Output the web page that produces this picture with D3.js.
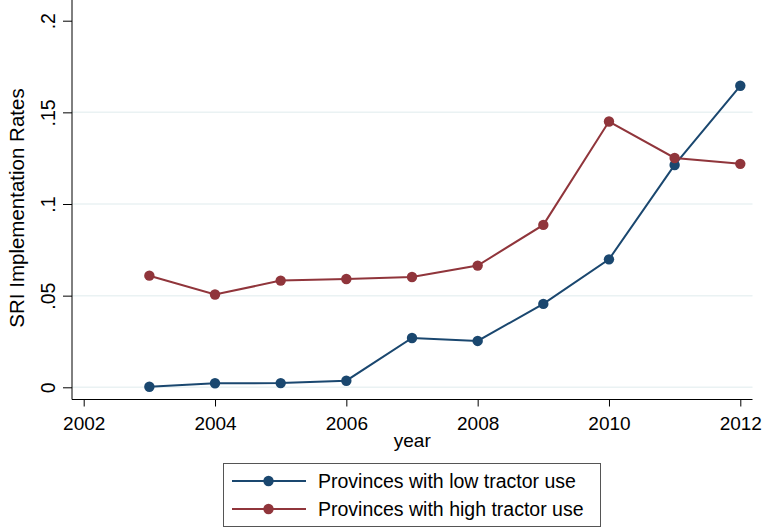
<!DOCTYPE html>
<html>
<head>
<meta charset="utf-8">
<script src="https://cdn.jsdelivr.net/npm/d3@7"></script>
<style>
  html, body { margin: 0; padding: 0; background: #fff; }
  svg { display: block; }
  text { font-family: "Liberation Sans", Arial, sans-serif; fill: #000; }
</style>
</head>
<body>
<svg id="chart" width="765" height="528"></svg>
<script>
// SRI implementation rates by province group, 2003–2012
const years = [2003, 2004, 2005, 2006, 2007, 2008, 2009, 2010, 2011, 2012];
const lowTractor  = [0.0003, 0.0022, 0.0023, 0.0036, 0.0269, 0.0253, 0.0455, 0.0698, 0.1213, 0.1645];
const highTractor = [0.0609, 0.0506, 0.0582, 0.0591, 0.0602, 0.0664, 0.0886, 0.1450, 0.1251, 0.1219];

const xTicks = [2002, 2004, 2006, 2008, 2010, 2012];
const yTicks = [0, 0.05, 0.1, 0.15, 0.2];
const yTickLabels = ["0", ".05", ".1", ".15", ".2"];
const gridValues = [0, 0.05, 0.1, 0.15];

const seriesNames = ["Provinces with low tractor use", "Provinces with high tractor use"];
const seriesColors = ["#1a476f", "#90353b"];

const svg = d3.select("#chart");

// plot frame
const left = 72, right = 752.5, bottom = 399.5;
const x = d3.scaleLinear().domain([2002, 2012]).range([83.7, 740.3]);
const y = d3.scaleLinear().domain([0, 0.2]).range([387.3, 20.7]);

// gridlines
svg.append("g")
  .selectAll("line")
  .data(gridValues)
  .join("line")
  .attr("x1", left).attr("x2", right)
  .attr("y1", d => y(d)).attr("y2", d => y(d))
  .attr("stroke", "#eaf2f3")
  .attr("stroke-width", 1.5);

// y axis
const yAxis = d3.axisLeft(y)
  .tickValues(yTicks)
  .tickFormat((d, i) => yTickLabels[i])
  .tickSizeOuter(0)
  .tickSizeInner(9);
const gy = svg.append("g")
  .attr("transform", `translate(${left},0)`)
  .call(yAxis);
gy.select(".domain").remove();
gy.append("line")
  .attr("x1", 0).attr("x2", 0)
  .attr("y1", 0).attr("y2", bottom)
  .attr("stroke", "#000").attr("stroke-width", 1);
gy.selectAll(".tick line").attr("stroke", "#000");
gy.selectAll(".tick text")
  .attr("x", null).attr("dy", null)
  .attr("text-anchor", "middle")
  .attr("transform", "translate(-17,0) rotate(-90)")
  .style("font-size", "19.5px")
  .style("font-family", "'Liberation Sans', Arial, sans-serif");

// x axis
const xAxis = d3.axisBottom(x)
  .tickValues(xTicks)
  .tickFormat(d3.format("d"))
  .tickSizeOuter(0)
  .tickSizeInner(7);
const gx = svg.append("g")
  .attr("transform", `translate(0,${bottom})`)
  .call(xAxis);
gx.select(".domain").remove();
gx.append("line")
  .attr("x1", left).attr("x2", right)
  .attr("y1", 0).attr("y2", 0)
  .attr("stroke", "#000").attr("stroke-width", 1);
gx.selectAll(".tick line").attr("stroke", "#000");
gx.selectAll(".tick text")
  .attr("y", 30.5).attr("dy", null)
  .style("font-size", "19px")
  .style("font-family", "'Liberation Sans', Arial, sans-serif");

// axis titles
svg.append("text")
  .attr("transform", "translate(24,208) rotate(-90)")
  .attr("text-anchor", "middle")
  .style("font-size", "20.5px")
  .text("SRI Implementation Rates");

svg.append("text")
  .attr("x", (left + right) / 2)
  .attr("y", 447)
  .attr("text-anchor", "middle")
  .style("font-size", "19px")
  .text("year");

// series
const allSeries = [lowTractor, highTractor];
const line = d3.line()
  .x((d, i) => x(years[i]))
  .y(d => y(d));

allSeries.forEach((vals, s) => {
  const g = svg.append("g");
  g.append("path")
    .datum(vals)
    .attr("fill", "none")
    .attr("stroke", seriesColors[s])
    .attr("stroke-width", 2)
    .attr("d", line);
  g.selectAll("circle")
    .data(vals)
    .join("circle")
    .attr("cx", (d, i) => x(years[i]))
    .attr("cy", d => y(d))
    .attr("r", 5.2)
    .attr("fill", seriesColors[s]);
});

// legend
const legend = svg.append("g");
legend.append("rect")
  .attr("x", 223.5).attr("y", 463.5)
  .attr("width", 377).attr("height", 63)
  .attr("fill", "#fff")
  .attr("stroke", "#555")
  .attr("stroke-width", 1);

seriesNames.forEach((name, s) => {
  const cy = 481 + s * 28;
  legend.append("line")
    .attr("x1", 232).attr("x2", 306)
    .attr("y1", cy).attr("y2", cy)
    .attr("stroke", seriesColors[s])
    .attr("stroke-width", 2);
  legend.append("circle")
    .attr("cx", 268.5).attr("cy", cy)
    .attr("r", 5.2)
    .attr("fill", seriesColors[s]);
  legend.append("text")
    .attr("x", 318)
    .attr("y", cy + 7)
    .style("font-size", "19.5px")
    .text(name);
});
</script>
</body>
</html>
